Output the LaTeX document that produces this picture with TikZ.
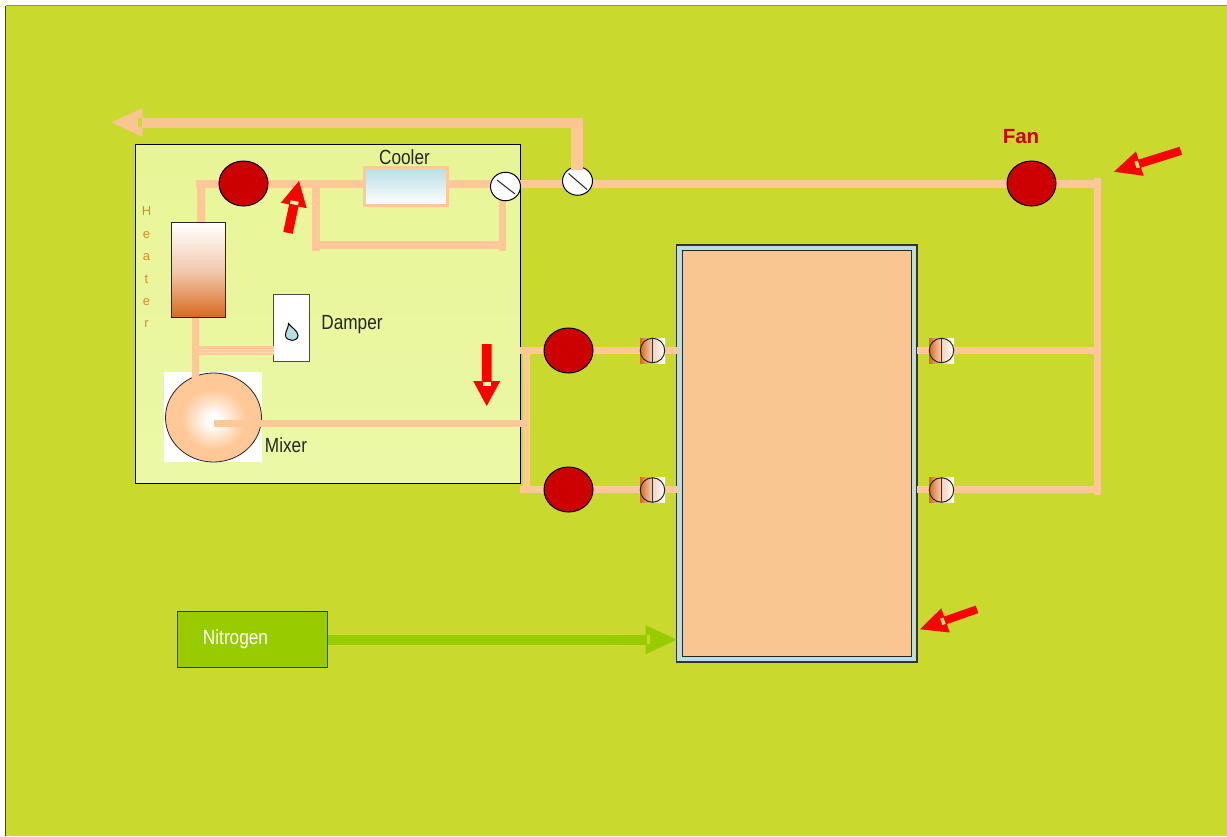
\documentclass[tikz,border=0pt]{standalone}
\usepackage{fontspec}
\setmainfont{Liberation Sans}
\newfontfamily\narrowf[FakeStretch=0.84]{Liberation Sans}
\usetikzlibrary{shapes.geometric}
\definecolor{bgc}{HTML}{C9D92D}
\definecolor{panelc}{HTML}{E8F596}
\definecolor{panelb}{HTML}{EBF8A6}
\definecolor{pipec}{HTML}{FFC896}
\definecolor{tankc}{HTML}{F9C591}
\definecolor{coolc}{HTML}{B7DEE3}
\definecolor{rustc}{HTML}{D96A20}
\definecolor{fanc}{HTML}{CC0000}
\definecolor{greenc}{HTML}{99CC00}
\definecolor{heatt}{HTML}{E08A28}
\pgfdeclareradialshading{mixglow}{\pgfpoint{0bp}{-1.5bp}}{color(0bp)=(white);color(3bp)=(white);color(17bp)=(pipec);color(50bp)=(pipec)}
\tikzset{
  pipe/.style={draw=pipec,line width=7.3pt},
  box/.style={rectangle,inner sep=0pt,outer sep=0pt},
  fanunit/.style={ellipse,draw=black,line width=1pt,fill=fanc,minimum width=49pt,minimum height=45pt,inner sep=0pt,outer sep=0pt},
  roundvalve/.style={ellipse,draw=black,line width=1pt,fill=white,minimum width=30pt,minimum height=28.5pt,inner sep=0pt,outer sep=0pt},
  portback/.style={box,minimum width=25pt,minimum height=25pt,left color=rustc,right color=white,middle color=rustc!30!white},
  portring/.style={circle,draw=black!85,line width=1pt,minimum size=24.5pt,inner sep=0pt,outer sep=0pt},
  label/.style={inner sep=0pt,anchor=base,font=\narrowf\fontsize{20.5}{22}\selectfont,text=black!85}
}
% name, tip, true angle, length, head length, head half width, shaft half width, colour, notch colour
\newcommand{\flowarrow}[9]{%
  \coordinate (#1) at (#2);
  \begin{scope}[shift={(#2)},rotate=#3]
    \fill[#8] (0,0) -- (-#5,#6) -- (-#5,#7) -- (-#4,#7) -- (-#4,-#7) -- (-#5,-#7) -- (-#5,-#6) -- cycle;
    \fill[#9] (-#5+1,-#7*0.85) rectangle (-#5+4.5,#7*0.85);
  \end{scope}}
\begin{document}
\begin{tikzpicture}[x=1pt,y=-1pt]
\useasboundingbox (0,0) rectangle (1227,836);
\fill[white] (0,0) rectangle (1227,836);
\fill[bgc] (5.5,5.5) rectangle (1227,836);
\draw[black!75,line width=0.8pt] (5.5,836) -- (5.5,5.5);
\draw[black!45,line width=0.8pt] (5.5,5.5) -- (1227,5.5);

% panel and tank
\node[box,draw=black,line width=1pt,top color=panelc,bottom color=panelb,minimum width=385pt,minimum height=339pt] (panel) at (328,314) {};
\node[box,draw=black!80,line width=1.3pt,fill=coolc,minimum width=240.5pt,minimum height=417pt] (tankouter) at (796.75,453.5) {};
\node[box,draw=black!85,line width=1pt,fill=tankc,minimum width=229pt,minimum height=406pt] (tank) at (797.25,453.5) {};

% mixer
\node[box,fill=white,minimum width=98pt,minimum height=90pt] (mixerback) at (213,417) {};
\node[ellipse,draw=black!85,line width=0.8pt,shading=mixglow,minimum width=96pt,minimum height=89pt,inner sep=0pt,outer sep=0pt] (mixer) at (213.5,417.5) {};

% named junctions
\coordinate (fanA) at (243.5,183.5);
\coordinate (fanB) at (1031.5,183.5);
\coordinate (fanC) at (568.5,350.5);
\coordinate (fanD) at (568.5,489.5);
\coordinate (jW) at (196,184);
\coordinate (jE) at (1101,184);
\coordinate (hTop) at (201,222);
\coordinate (hTopJ) at (201,180.5);
\coordinate (byL) at (316,184);
\coordinate (byLb) at (316,250.7);
\coordinate (byLm) at (316,245);
\coordinate (byRm) at (502.5,245);
\coordinate (byRb) at (502.5,250.7);
\coordinate (byRt) at (502.5,195);
\coordinate (rTop) at (1097.5,178);
\coordinate (rBot) at (1097.5,495);
\coordinate (rUp) at (1097.5,350.5);
\coordinate (rLo) at (1097.5,489.5);
\coordinate (tUpR) at (917,350.5);
\coordinate (tLoR) at (917,489.5);
\coordinate (tUpL) at (677,350.5);
\coordinate (tLoL) at (677,489.5);
\coordinate (cUp) at (520,350.5);
\coordinate (cLo) at (520,489.5);
\coordinate (cVu) at (526.3,347);
\coordinate (cVd) at (526.3,493);
\coordinate (mixC) at (214,423.2);
\coordinate (mixE) at (526,423.2);
\coordinate (hBot) at (195.6,317);
\coordinate (mixTop) at (195.6,383);

% pipes
\draw[pipe] (jW) -- (jE);
\draw[pipe] (hTopJ) -- (hTop);
\draw[pipe] (byL) -- (byLb);
\draw[pipe] (byLm) -- (byRm);
\draw[pipe] (byRt) -- (byRb);
\draw[pipe] (rTop) -- (rBot);
\draw[pipe] (tUpR) -- (rUp);
\draw[pipe] (tLoR) -- (rLo);
\draw[pipe] (cUp) -- (tUpL);
\draw[pipe] (cLo) -- (tLoL);
\draw[pipe] (cVu) -- (cVd);
\draw[pipe] (mixC) -- (mixE);
\draw[pipe] (hBot) -- (mixTop);

% damper
\node[box,draw=black!70,line width=1pt,fill=white,minimum width=36pt,minimum height=67pt] (damper) at (291.7,328.3) {};
\coordinate (dampJ) at (199,350.5);
\draw[draw=pipec,line width=9.6pt] (dampJ) -- (damper.west |- dampJ);
\draw[draw=pipec!70!white,line width=0.7pt] (199,349) -- (273.5,349);
\draw[draw=pipec!70!white,line width=0.7pt] (199,352.2) -- (273.5,352.2);
\filldraw[fill=coolc,draw=black,line width=1pt] (288.5,323.5) .. controls (291,327) and (298,331) .. (298,335.5) .. controls (298,342) and (285.5,342) .. (285.5,335) .. controls (285.5,331) and (288.5,328) .. (288.5,323.5) -- cycle;

% equipment
\node[box,draw=pipec,line width=3pt,top color=coolc,bottom color=white,minimum width=83.6pt,minimum height=37.7pt] (cooler) at (406,186.3) {};
\node[box,draw=black!85,line width=1pt,top color=white,bottom color=rustc,middle color=rustc!35!white,minimum width=54.5pt,minimum height=94.5pt] (heater) at (198.7,269.8) {};

\node[fanunit] (fan1) at (fanA) {};
\node[fanunit] (fan2) at (fanB) {};
\node[fanunit] (fan3) at (fanC) {};
\node[fanunit] (fan4) at (fanD) {};

% round valves
\node[roundvalve] (valve1) at (505.5,186.5) {};
\draw[black!85,line width=1pt] (497,180) -- (515,194);
\node[roundvalve] (valve2) at (577.5,181) {};
\draw[black!85,line width=1pt] (568.5,173.5) -- (587,189.5);

% return line
\coordinate (retTop) at (577,122.5);
\coordinate (retCorner) at (583,122.5);
\coordinate (retEnd) at (141,122.5);
\draw[draw=pipec,line width=12pt] (577,170) -- (retTop);
\draw[draw=tankc,line width=10pt] (retCorner) -- (retEnd);
\flowarrow{retTip}{111,122.5}{180}{33}{31.5}{14.5}{5}{tankc}{bgc}

% ports
\foreach \n/\x/\y in {pa/652.5/350.5,pb/652.5/490,pc/941.5/350.5,pd/941.5/490}{
  \node[portback] (\n back) at (\x,\y) {};
  \node[portring] (\n) at (\x,\y) {};
  \draw[black!80,line width=1pt] (\n.north) -- (\n.south);
}

% red flow arrows
\flowarrow{arrA}{299,181}{78}{53}{25}{13.2}{4.8}{red}{panelc!75!white}
\flowarrow{arrB}{486.7,406}{-90}{62}{25}{13.5}{4.8}{red}{panelc!75!white}
\flowarrow{arrC}{1114,171.7}{197.4}{70}{27}{12.8}{4.2}{red}{bgc!70!white}
\flowarrow{arrD}{920,629.3}{199.3}{60.4}{27}{12.8}{4}{red}{bgc!70!white}

% nitrogen
\node[box,draw=green!35!black,line width=1pt,fill=greenc,minimum width=150pt,minimum height=55.5pt] (nitrogen) at (252.5,639.7) {};
\coordinate (nitroEnd) at (648,639.7);
\draw[draw=greenc,line width=10pt] (nitrogen.east |- nitroEnd) -- (nitroEnd);
\flowarrow{nitroTip}{676.7,639.7}{0}{32}{31}{14.5}{5}{greenc}{bgc}

% labels
\node[label,text=white] (tNitrogen) at (235.5,644.5) {Nitrogen};
\node[label] (tCooler) at (404.5,164.3) {Cooler};
\node[label] (tDamper) at (352,329) {Damper};
\node[label] (tMixer) at (286,452) {Mixer};
\node[inner sep=0pt,anchor=base,text=fanc,font=\bfseries\fontsize{20.5}{22}\selectfont] (tFan) at (1021,143.5) {Fan};
\node[inner sep=0pt,text=heatt,align=center,font=\fontsize{13}{22.4}\selectfont] (tHeater) at (146.5,267.5) {H\\e\\a\\t\\e\\r};
\end{tikzpicture}
\end{document}
